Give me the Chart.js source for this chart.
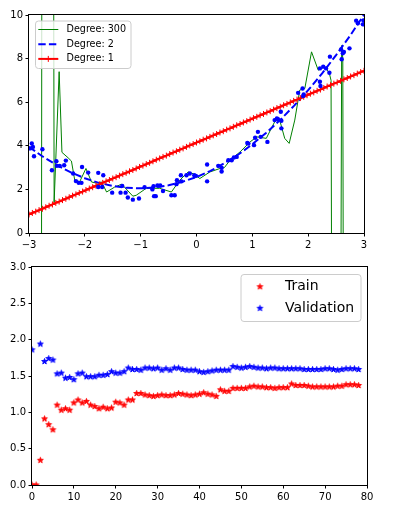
<!DOCTYPE html>
<html>
<head>
<meta charset="utf-8">
<script src="https://cdn.jsdelivr.net/npm/chart.js@4.4.0/dist/chart.umd.min.js"></script>
<style>
  body { margin: 0; background: #fff; }
  #wrap1 { position: absolute; left: 0; top: 0; }
  #wrap2 { position: absolute; left: 0; top: 255px; }
</style>
</head>
<body>
<div id="wrap1"><canvas id="myChart" width="398" height="255"></canvas></div>
<div id="wrap2"><canvas id="myChart2" width="398" height="273"></canvas></div>
<script>
// ---- top plot: polynomial fits ----
var X_PTS = [-2.98, -2.95, -2.93, -2.91, -2.76, -2.59, -2.51, -2.50, -2.45, -2.37,
  -2.34, -2.21, -2.16, -2.11, -2.06, -2.05, -1.94, -1.76, -1.67, -1.76,
  -1.69, -1.51, -1.36, -1.33, -1.27, -1.23, -1.14, -1.03, -0.93, -0.79,
  -0.77, -0.76, -0.73, -0.70, -0.65, -0.60, -0.45, -0.39, -0.35, -0.36,
  -0.28, -0.27, -0.18, -0.12, -0.04, -0.01, 0.19, 0.19, 0.39, 0.45,
  0.45, 0.57, 0.63, 0.67, 0.72, 0.91, 0.93, 1.03, 1.05, 1.10,
  1.15, 1.27, 1.40, 1.44, 1.46, 1.51, 1.52, 1.52, 1.82, 1.90,
  1.91, 1.92, 2.21, 2.22, 2.21, 2.27, 2.32, 2.38, 2.39, 2.59,
  2.62, 2.60, 2.64, 2.74, 2.86, 2.89, 2.98, 2.99];
var Y_PTS = [3.88, 4.11, 3.95, 3.52, 3.84, 2.88, 3.29, 3.08, 3.08, 3.11,
  3.32, 2.73, 2.38, 2.30, 2.30, 3.03, 2.77, 2.76, 2.65, 2.11,
  2.11, 1.85, 1.85, 2.16, 1.85, 1.63, 1.53, 1.58, 2.10, 2.00,
  2.15, 1.69, 1.69, 2.18, 2.18, 1.93, 1.73, 1.73, 2.42, 2.24,
  2.65, 2.37, 2.65, 2.73, 2.65, 2.62, 3.14, 2.37, 3.08, 2.99,
  2.82, 3.34, 3.34, 3.46, 3.49, 4.13, 4.10, 4.03, 4.37, 4.64,
  4.41, 4.18, 5.18, 5.25, 5.22, 5.56, 4.80, 5.15, 6.43, 6.63,
  6.28, 6.35, 6.94, 6.74, 7.55, 7.63, 7.55, 7.35, 8.09, 8.42,
  8.24, 7.97, 8.30, 8.47, 9.74, 9.62, 9.57, 9.75];

var X_DEG300 = [-3.00, -2.79, -2.76, -2.58, -2.55, -2.46, -2.41, -2.30, -2.24, -2.18,
  -2.09, -1.98, -1.88, -1.79, -1.70, -1.61, -1.47, -1.34, -1.14, -1.08,
  -0.90, -0.66, -0.45, -0.30, -0.15, -0.06, 0.06, 0.24, 0.42, 0.50,
  0.60, 0.78, 0.96, 1.08, 1.16, 1.25, 1.34, 1.43, 1.49, 1.58,
  1.66, 1.76, 1.85, 1.94, 2.06, 2.18, 2.30, 2.38, 2.41, 2.46,
  2.54, 2.60, 2.62, 2.66, 3.00];
var Y_DEG300 = [-40, -40, 40, 40, 1.4, 7.4, 3.7, 3.45, 3.3, 2.41,
  2.36, 2.96, 2.34, 2.29, 2.34, 1.88, 2.1, 2.24, 1.69, 1.73,
  2.05, 2.05, 1.88, 2.42, 2.80, 2.72, 2.50, 2.80, 2.96, 3.0,
  3.34, 3.72, 4.18, 4.41, 4.38, 4.34, 4.80, 5.25, 5.18, 4.34,
  4.11, 5.18, 6.56, 6.63, 8.31, 7.47, 7.63, 7.32, 7.0, -40,
  -40, 8.6, 8.0, -40, -40];

var X_DEG2 = [-3, -2.75, -2.5, -2.25, -2, -1.75, -1.5, -1.25, -1, -0.75, -0.5, -0.25,
  0, 0.25, 0.5, 0.75, 1, 1.25, 1.5, 1.75, 2, 2.25, 2.5, 2.75, 3];
var Y_DEG2 = [3.95, 3.50, 3.11, 2.78, 2.51, 2.30, 2.16, 2.07, 2.05, 2.09, 2.19, 2.35,
  2.57, 2.85, 3.20, 3.60, 4.07, 4.60, 5.19, 5.84, 6.55, 7.32, 8.16, 9.05, 10.01];

var X_DEG1 = [-3.00, -2.94, -2.88, -2.82, -2.76, -2.70, -2.64, -2.58, -2.52, -2.46,
  -2.40, -2.34, -2.28, -2.22, -2.16, -2.10, -2.04, -1.98, -1.92, -1.86,
  -1.80, -1.74, -1.68, -1.62, -1.56, -1.50, -1.44, -1.38, -1.32, -1.26,
  -1.20, -1.14, -1.08, -1.02, -0.96, -0.90, -0.84, -0.78, -0.72, -0.66,
  -0.60, -0.54, -0.48, -0.42, -0.36, -0.30, -0.24, -0.18, -0.12, -0.06,
  0.00, 0.06, 0.12, 0.18, 0.24, 0.30, 0.36, 0.42, 0.48, 0.54,
  0.60, 0.66, 0.72, 0.78, 0.84, 0.90, 0.96, 1.02, 1.08, 1.14,
  1.20, 1.26, 1.32, 1.38, 1.44, 1.50, 1.56, 1.62, 1.68, 1.74,
  1.80, 1.86, 1.92, 1.98, 2.04, 2.10, 2.16, 2.22, 2.28, 2.34,
  2.40, 2.46, 2.52, 2.58, 2.64, 2.70, 2.76, 2.82, 2.88, 2.94,
  3.00];
var Y_DEG1 = [0.85, 0.92, 0.98, 1.05, 1.11, 1.18, 1.25, 1.31, 1.38, 1.44,
  1.51, 1.57, 1.64, 1.71, 1.77, 1.84, 1.90, 1.97, 2.04, 2.10,
  2.17, 2.23, 2.30, 2.37, 2.43, 2.50, 2.56, 2.63, 2.70, 2.76,
  2.83, 2.89, 2.96, 3.03, 3.09, 3.16, 3.22, 3.29, 3.36, 3.42,
  3.49, 3.55, 3.62, 3.69, 3.75, 3.82, 3.88, 3.95, 4.02, 4.08,
  4.15, 4.21, 4.28, 4.34, 4.41, 4.48, 4.54, 4.61, 4.67, 4.74,
  4.80, 4.87, 4.94, 5.00, 5.07, 5.13, 5.20, 5.27, 5.33, 5.40,
  5.46, 5.53, 5.59, 5.66, 5.73, 5.79, 5.86, 5.92, 5.99, 6.06,
  6.12, 6.19, 6.25, 6.32, 6.39, 6.45, 6.52, 6.58, 6.65, 6.72,
  6.78, 6.85, 6.91, 6.98, 7.05, 7.11, 7.18, 7.24, 7.31, 7.38,
  7.44];

var TOP_X_TICKS = [-3, -2, -1, 0, 1, 2, 3];
var TOP_Y_TICKS = [0, 2, 4, 6, 8, 10];
var TOP_LABELS = ['Degree: 300', 'Degree: 2', 'Degree: 1'];

// ---- bottom plot: learning curves ----
var TRAIN_ERR = [0.0, 0.0, 0.34, 0.91, 0.83, 0.76, 1.10, 1.03, 1.05, 1.03,
  1.13, 1.17, 1.13, 1.15, 1.10, 1.08, 1.05, 1.07, 1.05, 1.06,
  1.14, 1.13, 1.10, 1.17, 1.17, 1.26, 1.26, 1.24, 1.23, 1.22,
  1.23, 1.24, 1.23, 1.23, 1.24, 1.26, 1.25, 1.24, 1.23, 1.24,
  1.25, 1.27, 1.25, 1.24, 1.22, 1.31, 1.29, 1.29, 1.33, 1.33,
  1.33, 1.33, 1.35, 1.36, 1.35, 1.35, 1.34, 1.34, 1.33, 1.34,
  1.34, 1.34, 1.39, 1.37, 1.37, 1.37, 1.36, 1.35, 1.35, 1.35,
  1.35, 1.35, 1.35, 1.36, 1.36, 1.38, 1.38, 1.38, 1.37];
var VAL_ERR = [1.86, 3.40, 1.94, 1.70, 1.74, 1.72, 1.53, 1.54, 1.47, 1.48,
  1.45, 1.53, 1.54, 1.49, 1.49, 1.49, 1.51, 1.51, 1.52, 1.56,
  1.54, 1.54, 1.56, 1.61, 1.59, 1.59, 1.58, 1.61, 1.61, 1.60,
  1.61, 1.58, 1.60, 1.58, 1.61, 1.61, 1.59, 1.58, 1.58, 1.58,
  1.56, 1.55, 1.56, 1.57, 1.58, 1.58, 1.58, 1.58, 1.63, 1.62,
  1.61, 1.62, 1.63, 1.62, 1.61, 1.61, 1.60, 1.61, 1.61, 1.60,
  1.60, 1.60, 1.60, 1.60, 1.60, 1.59, 1.59, 1.59, 1.59, 1.59,
  1.60, 1.60, 1.59, 1.58, 1.59, 1.60, 1.60, 1.60, 1.59];
var BOT_X_TICKS = [0, 10, 20, 30, 40, 50, 60, 70, 80];
var BOT_Y_TICKS = [0, 0.5, 1.0, 1.5, 2.0, 2.5, 3.0];
var BOT_LABELS = ['Train', 'Validation'];

var FONT = 'DejaVu Sans';

function zip(xs, ys){
  var out = [];
  for (var i = 0; i < xs.length; i++) out.push({x: xs[i], y: ys[i]});
  return out;
}

function starImg(color, r){
  var c = document.createElement('canvas');
  var s = Math.ceil(2 * r + 3);
  c.width = s; c.height = s;
  var g = c.getContext('2d');
  g.beginPath();
  for (var i = 0; i < 10; i++) {
    var a = -Math.PI / 2 + i * Math.PI / 5;
    var rr = (i % 2) ? r * 0.382 : r;
    g.lineTo(s / 2 + rr * Math.cos(a), s / 2 + rr * Math.sin(a));
  }
  g.closePath();
  g.fillStyle = color; g.fill();
  g.strokeStyle = color; g.lineWidth = 1; g.stroke();
  return c;
}

function minus(v){
  return String(v).replace('-', '\u2212');
}

function axis(min, max, ticks, fmt, isX, size){
  return {
    type: 'linear', min: min, max: max,
    afterBuildTicks: function(s){ s.ticks = ticks.map(function(v){ return {value: v}; }); },
    afterFit: function(s){ if (isX) s.height = size; else s.width = size; },
    ticks: {
      callback: fmt, color: '#000', padding: 2.5, maxRotation: 0, autoSkip: false,
      font: {family: FONT, size: 10}
    },
    grid: {drawOnChartArea: false, drawTicks: true, tickLength: 3.5, tickWidth: 1, color: '#000'},
    border: {display: false}
  };
}

// spines + matplotlib-like legend box
var framePlugin = {
  id: 'frame',
  afterDatasetsDraw: function(chart, args, opts){
    var ctx = chart.ctx, a = chart.chartArea;
    ctx.save();
    ctx.strokeStyle = '#000'; ctx.lineWidth = 1;
    ctx.strokeRect(Math.round(a.left) - 0.5, Math.round(a.top) - 0.5,
      Math.round(a.right - a.left) + 1, Math.round(a.bottom - a.top) + 1);

    var b = opts.box;
    ctx.beginPath();
    ctx.roundRect(b[0] + 0.5, b[1] + 0.5, b[2], b[3], 3);
    ctx.fillStyle = 'rgba(255,255,255,0.8)'; ctx.fill();
    ctx.strokeStyle = '#cccccc'; ctx.stroke();

    opts.items.forEach(function(it, i){
      var y = opts.y0 + i * opts.dy;
      if (it.line) {
        ctx.beginPath();
        ctx.setLineDash(it.dash || []);
        ctx.strokeStyle = it.color; ctx.lineWidth = it.width;
        ctx.moveTo(opts.lx0, y); ctx.lineTo(opts.lx1, y); ctx.stroke();
        ctx.setLineDash([]);
      }
      var mx = (opts.lx0 + opts.lx1) / 2;
      if (it.marker === 'cross') {
        ctx.beginPath(); ctx.lineWidth = 1; ctx.strokeStyle = it.color;
        ctx.moveTo(mx - 3, y); ctx.lineTo(mx + 3, y);
        ctx.moveTo(mx, y - 3); ctx.lineTo(mx, y + 3); ctx.stroke();
      } else if (it.marker) {
        ctx.drawImage(it.marker, mx - it.marker.width / 2, y - it.marker.height / 2);
      }
      ctx.fillStyle = '#000';
      ctx.font = opts.fontSize + 'px "' + FONT + '"';
      ctx.textBaseline = 'middle'; ctx.textAlign = 'left';
      ctx.fillText(it.label, opts.tx, y);
    });
    ctx.restore();
  }
};

function init(){
  Chart.defaults.font.family = FONT;
  var redStar = starImg('#ff0000', 3);
  var blueStar = starImg('#0000ff', 3);

  var ctx = document.getElementById('myChart').getContext('2d');
  var myChart = new Chart(ctx, {
    type: 'scatter',
    data: {
      datasets: [
        {label: 'data', data: zip(X_PTS, Y_PTS), backgroundColor: '#0000ff', borderWidth: 0,
          pointRadius: 2.2, pointBorderWidth: 0, clip: 0, order: 0},
        {label: TOP_LABELS[2], data: zip(X_DEG1, Y_DEG1), showLine: true, borderColor: '#ff0000',
          borderWidth: 2, pointStyle: 'cross', pointRadius: 3, pointBorderWidth: 1,
          pointBorderColor: '#ff0000', clip: 0, order: 1},
        {label: TOP_LABELS[1], data: zip(X_DEG2, Y_DEG2), showLine: true, borderColor: '#0000ff',
          borderWidth: 2, borderDash: [7.4, 3.2], pointRadius: 0, clip: 0, order: 2},
        {label: TOP_LABELS[0], data: zip(X_DEG300, Y_DEG300), showLine: true, borderColor: '#008000',
          borderWidth: 1, pointRadius: 0, clip: 0, order: 3}
      ]
    },
    options: {
      responsive: false, animation: false, devicePixelRatio: 1,
      layout: {padding: {left: 0, right: 34, top: 15, bottom: 0}},
      scales: {
        x: axis(-3, 3, TOP_X_TICKS, function(v){ return minus(v); }, true, 22),
        y: axis(0, 10, TOP_Y_TICKS, function(v){ return String(v); }, false, 29)
      },
      plugins: {
        legend: {display: false}, tooltip: {enabled: false},
        frame: {
          box: [35, 20.5, 95.5, 47.5], y0: 29.5, dy: 14.7, lx0: 38.3, lx1: 58.3, tx: 66.5, fontSize: 9.6,
          items: [
            {label: TOP_LABELS[0], line: true, color: '#008000', width: 1},
            {label: TOP_LABELS[1], line: true, color: '#0000ff', width: 2, dash: [7.4, 3.2]},
            {label: TOP_LABELS[2], line: true, color: '#ff0000', width: 2, marker: 'cross'}
          ]
        }
      }
    },
    plugins: [framePlugin]
  });

  var ctx2 = document.getElementById('myChart2').getContext('2d');
  var epochs = TRAIN_ERR.map(function(v, i){ return i; });
  var myChart2 = new Chart(ctx2, {
    type: 'scatter',
    data: {
      datasets: [
        {label: BOT_LABELS[0], data: zip(epochs, TRAIN_ERR), pointStyle: redStar, clip: 0},
        {label: BOT_LABELS[1], data: zip(epochs, VAL_ERR), pointStyle: blueStar, clip: 0}
      ]
    },
    options: {
      responsive: false, animation: false, devicePixelRatio: 1,
      layout: {padding: {left: 0, right: 31, top: 12, bottom: 21}},
      scales: {
        x: axis(0, 80, BOT_X_TICKS, function(v){ return String(v); }, true, 22),
        y: axis(0, 3, BOT_Y_TICKS, function(v){ return v.toFixed(1); }, false, 32)
      },
      plugins: {
        legend: {display: false}, tooltip: {enabled: false},
        frame: {
          box: [240.5, 19, 120, 47], y0: 31.7, dy: 21.6, lx0: 250, lx1: 270, tx: 285, fontSize: 14,
          items: [
            {label: BOT_LABELS[0], marker: redStar},
            {label: BOT_LABELS[1], marker: blueStar}
          ]
        }
      }
    },
    plugins: [framePlugin]
  });
}

init();
</script>
</body>
</html>
